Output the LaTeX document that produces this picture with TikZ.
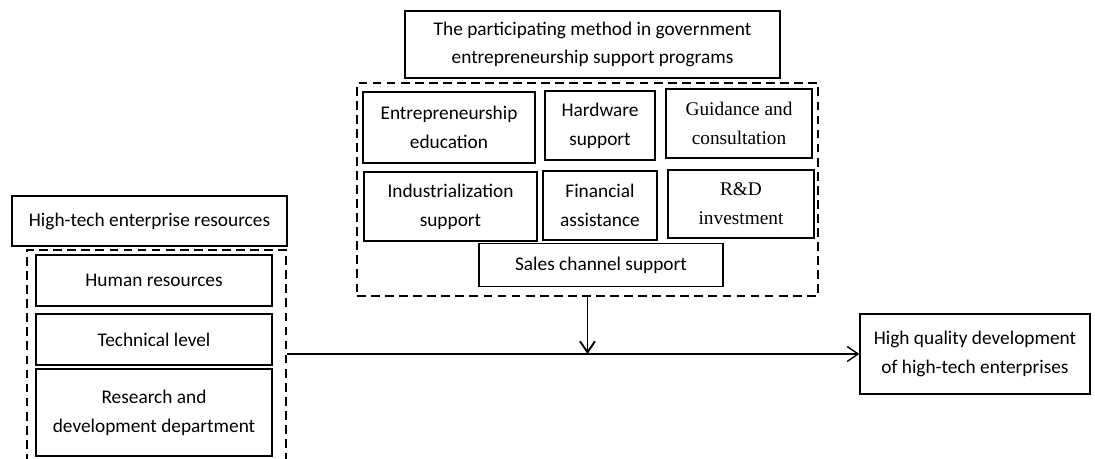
\documentclass[tikz,border=0pt]{standalone}
\usepackage{fontspec}
\setmainfont{Carlito}
\newfontfamily\serifbox{Liberation Serif}
\usetikzlibrary{arrows.meta, positioning}

\begin{document}
\begin{tikzpicture}[x=0.02cm, y=-0.02cm,
    box/.style = {draw, line width=0.7pt, align=center, inner sep=2pt,
                  font=\fontsize{11}{16.4}\selectfont},
    sbox/.style = {box, font=\fontsize{11}{16.4}\selectfont\serifbox},
    group/.style = {draw, dashed, line width=0.7pt, dash pattern=on 5pt off 3pt},
    >={Straight Barb[length=2.2mm, width=3mm]}]
  \useasboundingbox (0,0) rectangle (1095,459);

  % government programs
  \node[box, minimum width=7.5cm, minimum height=1.34cm] (gov) at (592.5,44.5)
    {The participating method in government\\entrepreneurship support programs};
  \node[group, minimum width=9.22cm, minimum height=4.26cm] (prog) at (587.5,189.5) {};
  \node[box, minimum width=3.44cm, minimum height=1.42cm] (edu) at (449,127.5)
    {Entrepreneurship\\education};
  \node[box, minimum width=2.2cm, minimum height=1.38cm] (hw) at (600,125.5)
    {Hardware\\support};
  \node[sbox, minimum width=2.92cm, minimum height=1.38cm] (guide) at (739,123.5)
    {Guidance and\\consultation};
  \node[box, minimum width=3.46cm, minimum height=1.38cm] (ind) at (450.5,206.5)
    {Industrialization\\support};
  \node[box, minimum width=2.28cm, minimum height=1.38cm] (fin) at (600,205.5)
    {Financial\\assistance};
  \node[sbox, minimum width=2.92cm, minimum height=1.36cm] (rd) at (741,204)
    {R\&D\\investment};
  \node[box, minimum width=4.88cm, minimum height=0.86cm] (sales) at (601,265)
    {Sales channel support};

  % enterprise resources
  \node[box, minimum width=5.5cm, minimum height=1cm] (res) at (149.5,221)
    {High-tech enterprise resources};
  \node[group, minimum width=5.18cm, minimum height=4.4cm] (resgrp) at (156.5,360) {};
  \node[box, minimum width=4.72cm, minimum height=1.02cm] (hum) at (154,280.5)
    {Human resources};
  \node[box, minimum width=4.72cm, minimum height=1.02cm] (tech) at (154,339.5)
    {Technical level};
  \node[box, minimum width=4.72cm, minimum height=1.74cm] (dept) at (154,412.5)
    {Research and\\development department};

  % outcome
  \node[box, minimum width=4.6cm, minimum height=1.6cm] (out) at (975,354)
    {High quality development\\of high-tech enterprises};

  \draw[->, line width=0.8pt] (resgrp.east |- out.west) -- (out.west);
  \draw[->, line width=1.1pt] (prog.south) -- (prog.south |- out.west);
\end{tikzpicture}
\end{document}
